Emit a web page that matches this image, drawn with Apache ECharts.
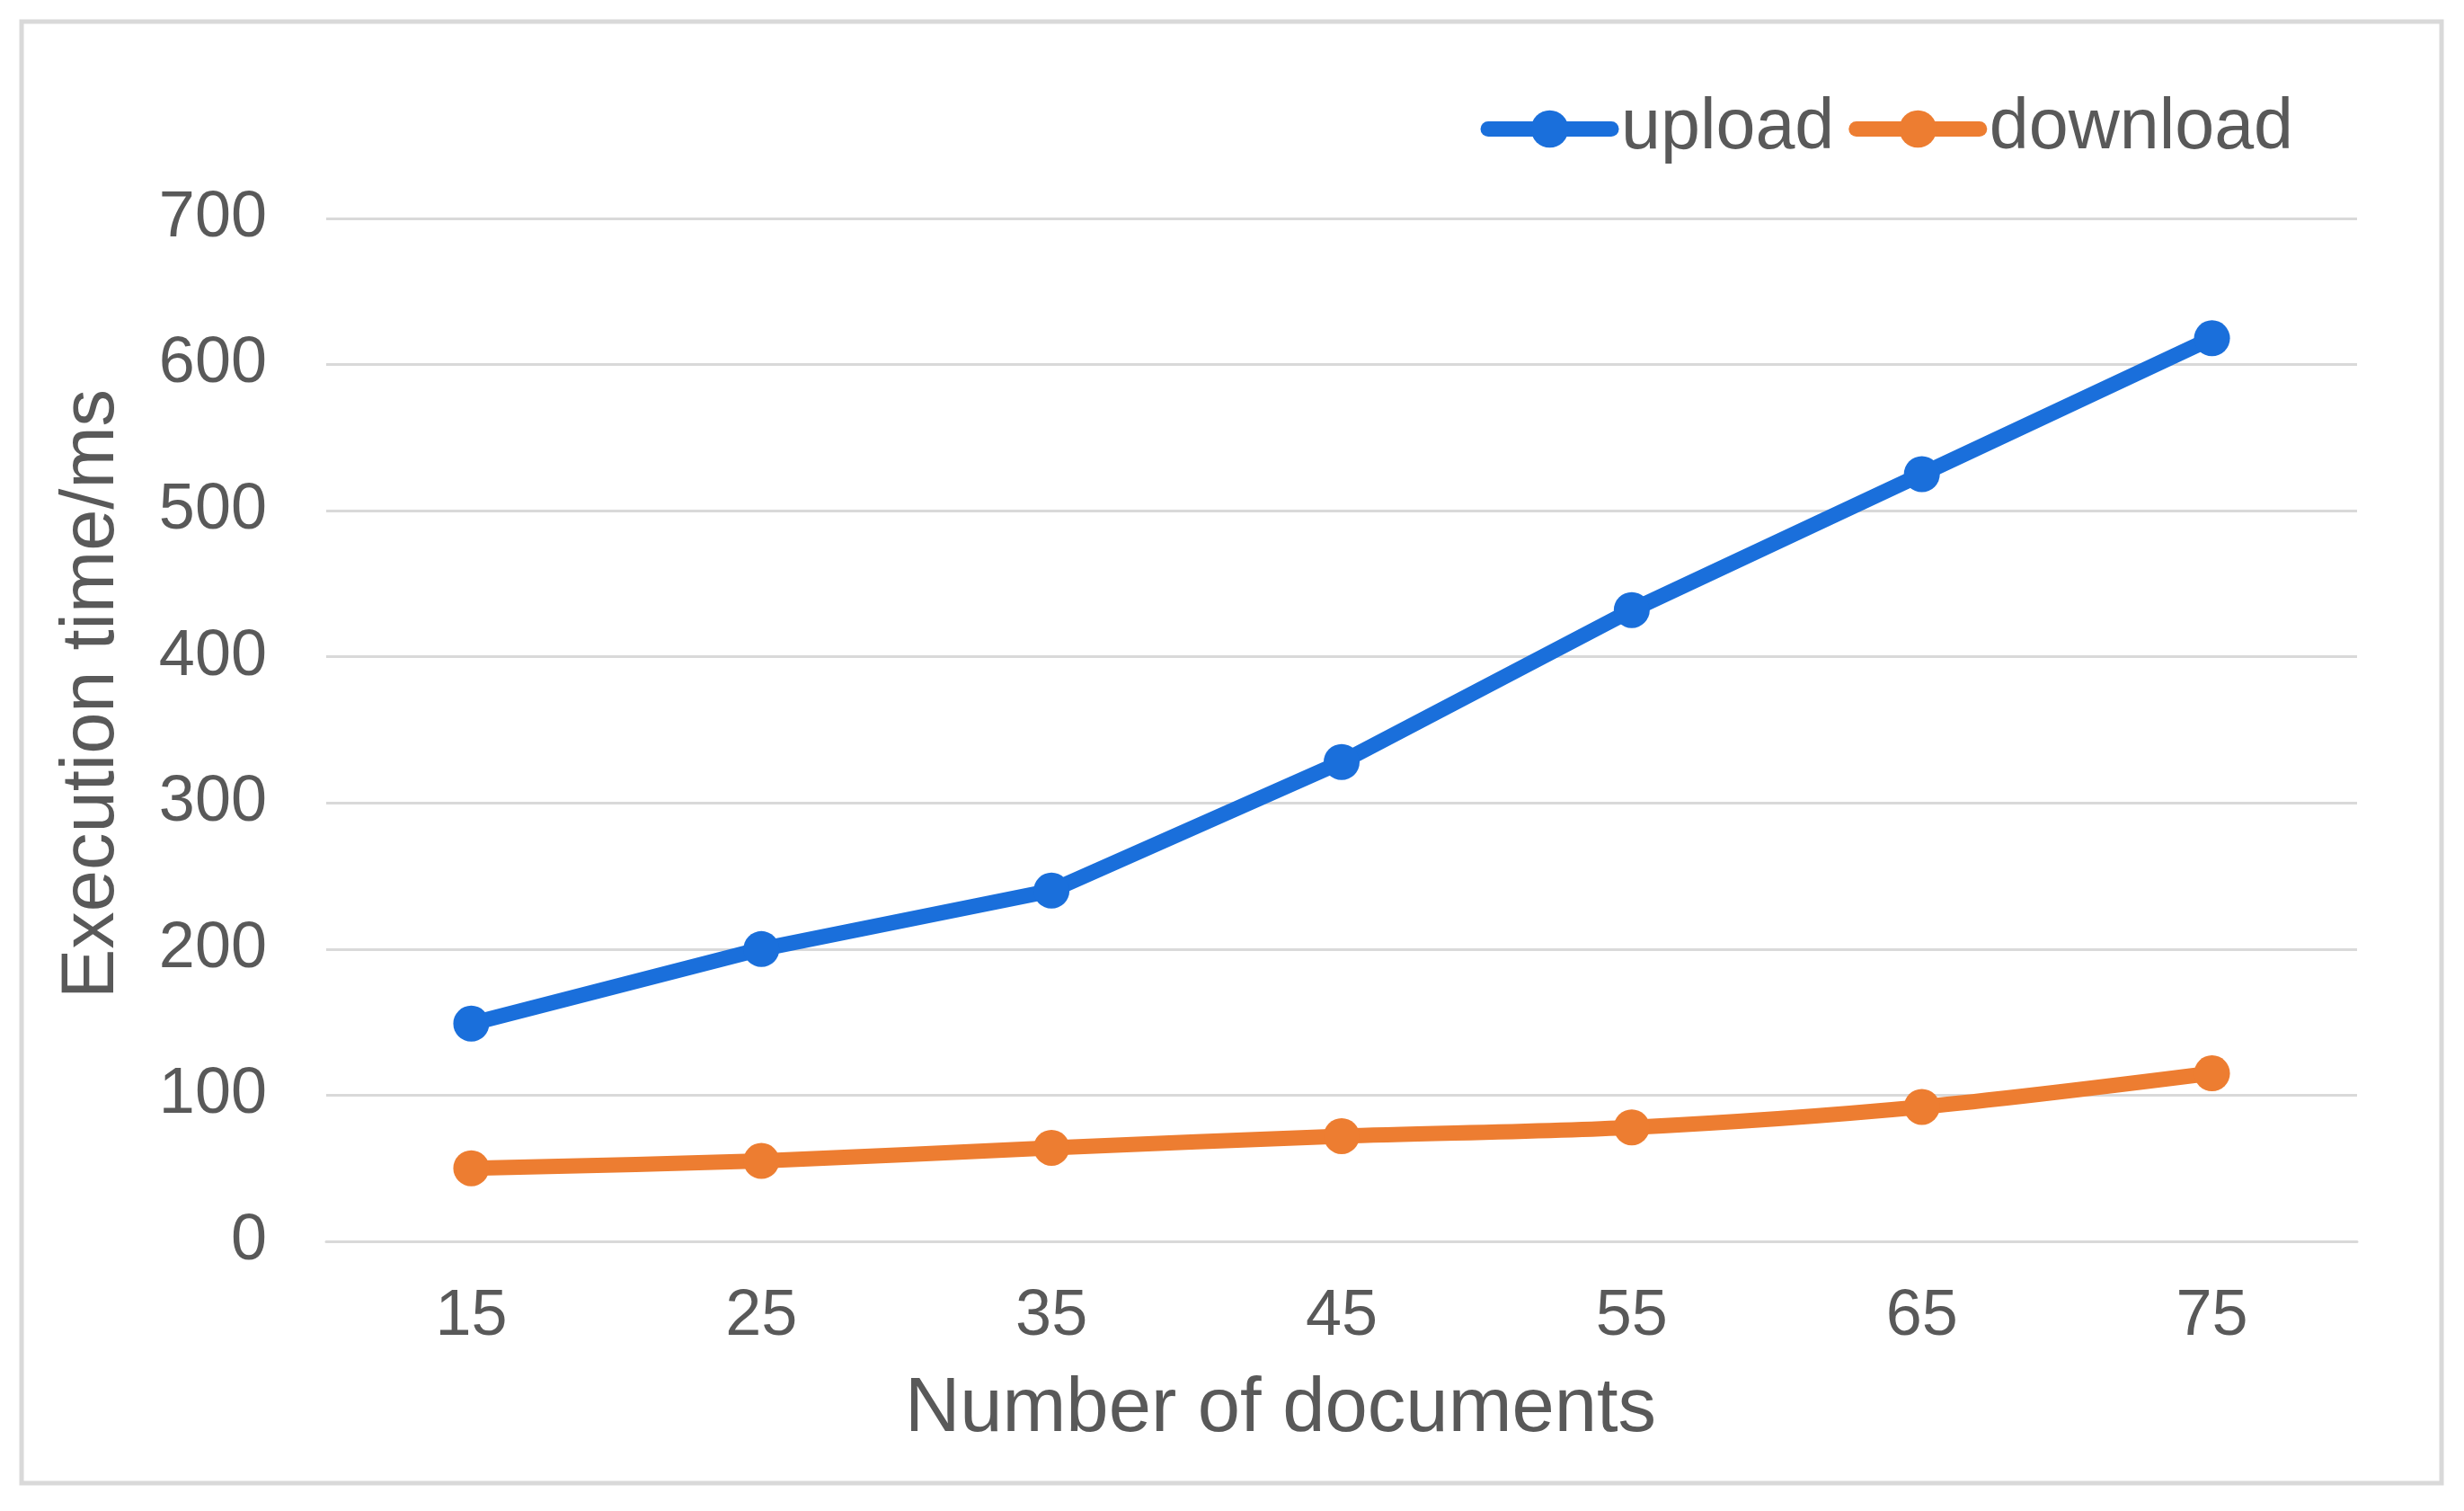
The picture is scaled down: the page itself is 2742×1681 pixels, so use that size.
<!DOCTYPE html>
<html>
<head>
<meta charset="utf-8">
<script src="https://cdn.jsdelivr.net/npm/echarts@6/dist/echarts.min.js"></script>
<style>
html,body{margin:0;padding:0;background:#fff;}
#chart{width:2742px;height:1681px;}
</style>
</head>
<body>
<div id="chart"></div>
<script>
const categories = ['15', '25', '35', '45', '55', '65', '75'];
const uploadValues = [149, 200, 240, 328, 432, 525, 618];
const downloadValues = [50, 55, 64, 72, 78, 92, 115];
const seriesNames = ['upload', 'download'];
const xAxisTitle = 'Number of documents';
const yAxisTitle = 'Execution time/ms';

const FONT = 'Liberation Sans';
const chart = echarts.init(document.getElementById('chart'));
chart.setOption({
  backgroundColor: '#ffffff',
  animation: false,
  textStyle: { fontFamily: FONT },
  graphic: [{
    type: 'rect',
    shape: { x: 24, y: 24, width: 2693, height: 1626 },
    style: { fill: 'none', stroke: '#d9d9d9', lineWidth: 5 },
    silent: true
  }],
  legend: {
    top: 99,
    right: 185,
    itemWidth: 137,
    itemHeight: 52,
    itemGap: 16,
    lineStyle: { width: 17, cap: 'round' },
    textStyle: { fontSize: 79, color: '#595959', fontFamily: FONT, padding: [0, 0, 0, 6] },
    data: seriesNames
  },
  grid: { left: 363, right: 119, top: 243, bottom: 300, containLabel: false },
  xAxis: {
    type: 'category',
    data: categories,
    boundaryGap: true,
    name: xAxisTitle,
    nameLocation: 'middle',
    nameGap: 145,
    nameTextStyle: { fontSize: 85, color: '#595959', fontFamily: FONT, padding: [0, 136, 0, 0] },
    axisLine: { lineStyle: { color: '#d9d9d9', width: 3 } },
    axisTick: { show: false },
    axisLabel: { fontSize: 72, color: '#595959', margin: 48, fontFamily: FONT }
  },
  yAxis: {
    type: 'value',
    min: 0,
    max: 700,
    interval: 100,
    name: yAxisTitle,
    nameLocation: 'middle',
    nameGap: 218,
    nameTextStyle: { fontSize: 83, color: '#595959', fontFamily: FONT, padding: [0, 0, 0, 80] },
    axisLine: { show: false },
    axisTick: { show: false },
    axisLabel: { fontSize: 72, color: '#595959', margin: 66, fontFamily: FONT },
    splitLine: { lineStyle: { color: '#d9d9d9', width: 3 } }
  },
  series: [
    {
      name: seriesNames[0],
      type: 'line',
      data: uploadValues,
      symbol: 'circle',
      symbolSize: 40,
      color: '#1a6fdb',
      lineStyle: { width: 17, color: '#1a6fdb', cap: 'round' },
      itemStyle: { color: '#1a6fdb' }
    },
    {
      name: seriesNames[1],
      type: 'line',
      data: downloadValues,
      symbol: 'circle',
      symbolSize: 40,
      smooth: 0.3,
      color: '#ed7d31',
      lineStyle: { width: 17, color: '#ed7d31', cap: 'round' },
      itemStyle: { color: '#ed7d31' }
    }
  ]
});
</script>
</body>
</html>
